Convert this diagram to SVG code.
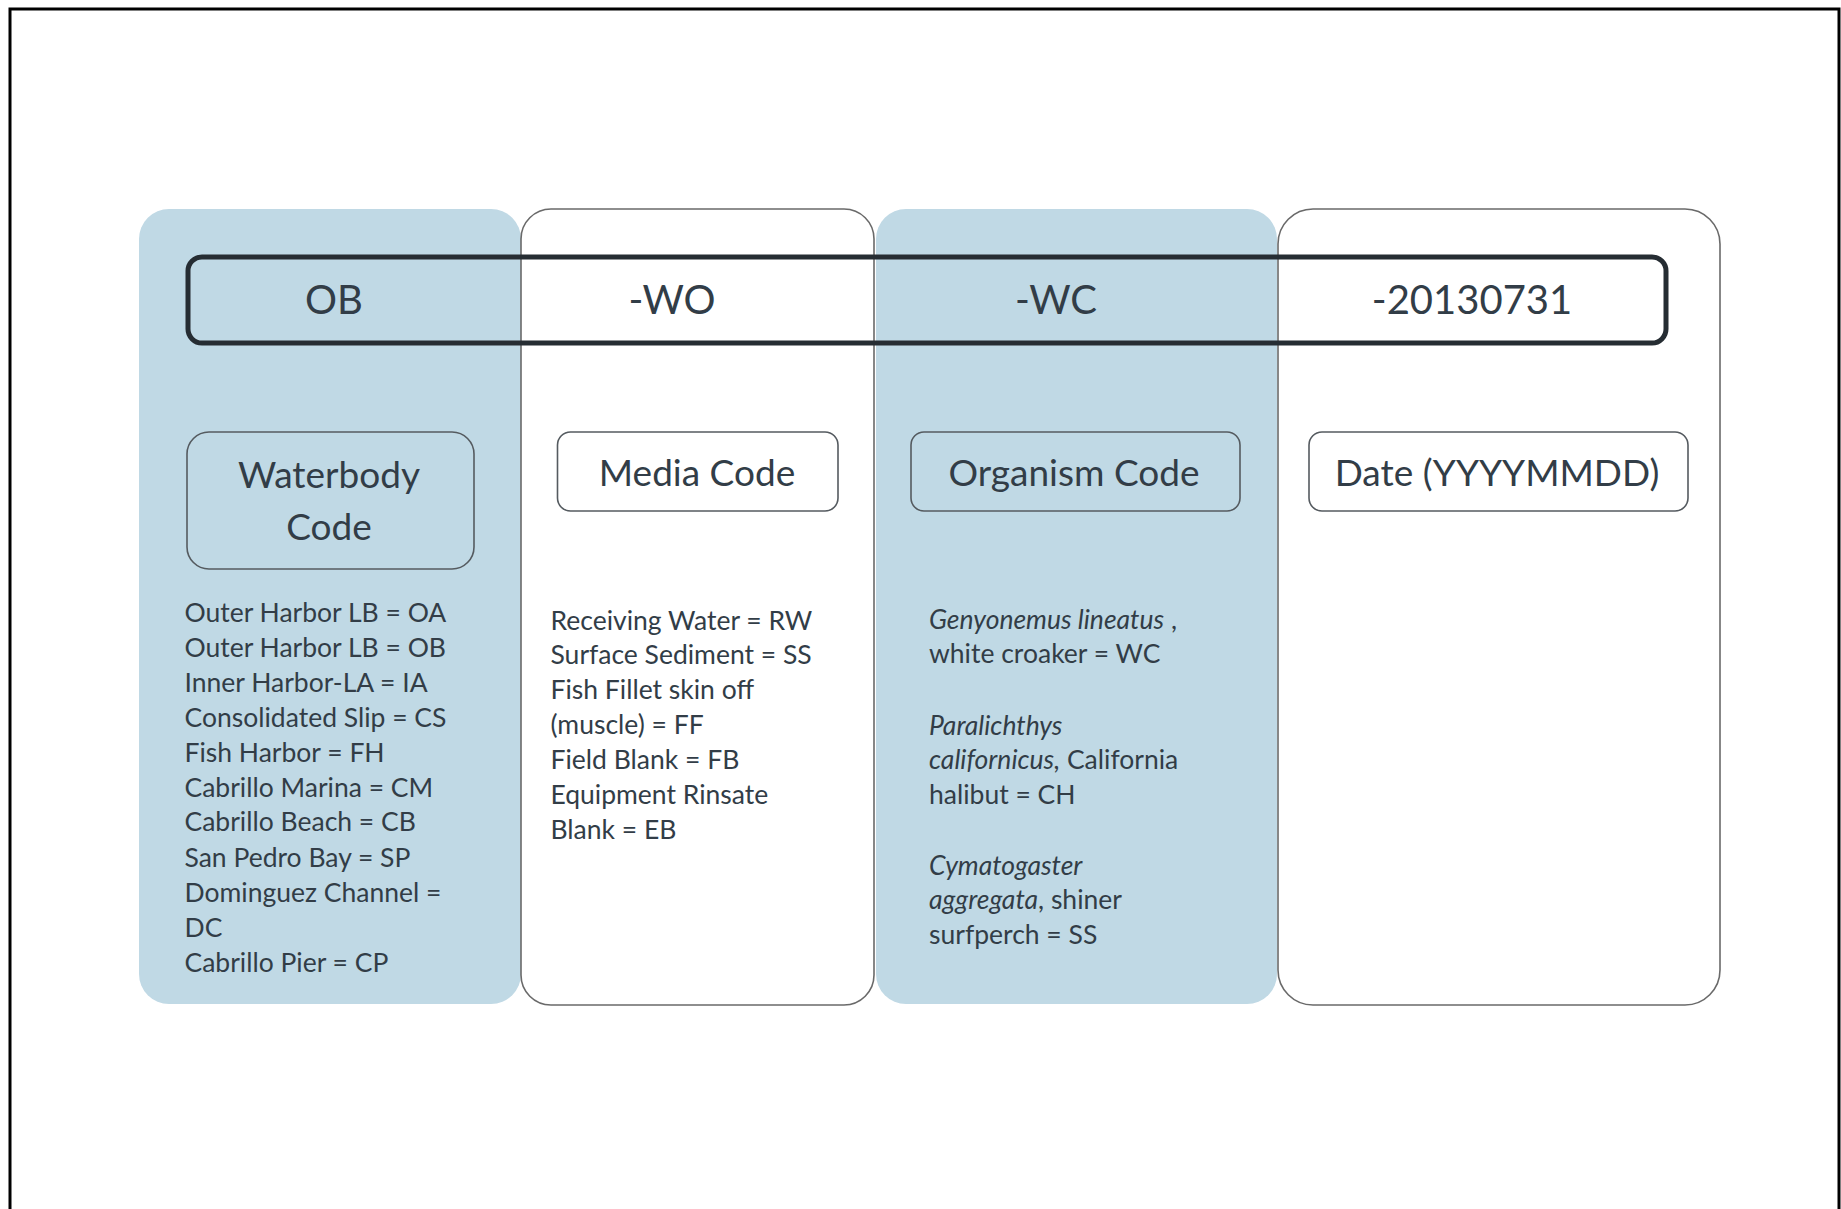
<svg xmlns="http://www.w3.org/2000/svg" width="1841" height="1209" viewBox="0 0 1841 1209">
<style>
.blue{fill:#C0D9E5;stroke:none}
.lane{fill:#FFFFFF;stroke:#6A6A6A;stroke-width:1.6}
.bar{fill:none;stroke:#262D33;stroke-width:5}
.box{stroke:#555B60;stroke-width:1.6}
.t{font-family:Lato,"Liberation Sans",sans-serif;fill:#323D47}
.title{font-size:40px;text-anchor:middle}
.label{font-size:37px;text-anchor:middle}
.body{font-size:26.5px}
.i{font-style:italic}
</style>
<rect x="10" y="9" width="1829" height="1220" fill="#FFFFFF" stroke="#000000" stroke-width="3"/>
<g id="columns">
<rect id="col-waterbody" class="blue" x="139" y="209" width="382" height="795" rx="30" ry="30"/>
<rect id="col-media" class="lane" x="521" y="209" width="353" height="796" rx="30" ry="30"/>
<rect id="col-organism" class="blue" x="876" y="209" width="401" height="795" rx="30" ry="30"/>
<rect id="col-date" class="lane" x="1278" y="209" width="442" height="796" rx="35" ry="35"/>
</g>
<g id="code-bar">
<rect class="bar" x="188" y="257" width="1478" height="86" rx="14" ry="14"/>
<text class="t title" x="334" y="314">OB</text>
<text class="t title" x="672" y="314">-WO</text>
<text class="t title" x="1056" y="314">-WC</text>
<text class="t title" x="1472" y="314">-20130731</text>
</g>
<g id="waterbody">
<rect class="box" fill="#C0D9E5" x="187" y="432" width="287" height="137" rx="22" ry="22"/>
<text class="t label" x="329" y="488">Waterbody</text>
<text class="t label" x="329" y="540">Code</text>
<text class="t body">
<tspan x="184.5" y="622">Outer Harbor LB = OA</tspan>
<tspan x="184.5" y="656.5">Outer Harbor LB = OB</tspan>
<tspan x="184.5" y="691.5">Inner Harbor-LA = IA</tspan>
<tspan x="184.5" y="726.5">Consolidated Slip = CS</tspan>
<tspan x="184.5" y="761.5">Fish Harbor = FH</tspan>
<tspan x="184.5" y="796.5">Cabrillo Marina = CM</tspan>
<tspan x="184.5" y="831">Cabrillo Beach = CB</tspan>
<tspan x="184.5" y="866.5">San Pedro Bay = SP</tspan>
<tspan x="184.5" y="902">Dominguez Channel =</tspan>
<tspan x="184.5" y="936.5">DC</tspan>
<tspan x="184.5" y="971.5">Cabrillo Pier = CP</tspan>
</text>
</g>
<g id="media">
<rect class="box" fill="#FFFFFF" x="557.5" y="432" width="280.5" height="79" rx="13" ry="13"/>
<text class="t label" x="697" y="486">Media Code</text>
<text class="t body">
<tspan x="550.5" y="629.5">Receiving Water = RW</tspan>
<tspan x="550.5" y="663.5">Surface Sediment = SS</tspan>
<tspan x="550.5" y="698.5">Fish Fillet skin off</tspan>
<tspan x="550.5" y="733.5">(muscle) = FF</tspan>
<tspan x="550.5" y="768.5">Field Blank = FB</tspan>
<tspan x="550.5" y="804">Equipment Rinsate</tspan>
<tspan x="550.5" y="838.5">Blank = EB</tspan>
</text>
</g>
<g id="organism">
<rect class="box" fill="#C0D9E5" x="911" y="432" width="329" height="79" rx="13" ry="13"/>
<text class="t label" x="1074" y="486">Organism Code</text>
<text class="t body">
<tspan x="929" y="629"><tspan class="i">Genyonemus lineatus</tspan> ,</tspan>
<tspan x="929" y="663">white croaker = WC</tspan>
<tspan x="929" y="734.5" class="i">Paralichthys</tspan>
<tspan x="929" y="768.5"><tspan class="i">californicus,</tspan> California</tspan>
<tspan x="929" y="803.5">halibut = CH</tspan>
<tspan x="929" y="875" class="i">Cymatogaster</tspan>
<tspan x="929" y="909"><tspan class="i">aggregata</tspan>, shiner</tspan>
<tspan x="929" y="943.5">surfperch = SS</tspan>
</text>
</g>
<g id="date">
<rect class="box" fill="#FFFFFF" x="1309" y="432" width="379" height="79" rx="13" ry="13"/>
<text class="t label" x="1497" y="486">Date (YYYYMMDD)</text>
</g>
</svg>
